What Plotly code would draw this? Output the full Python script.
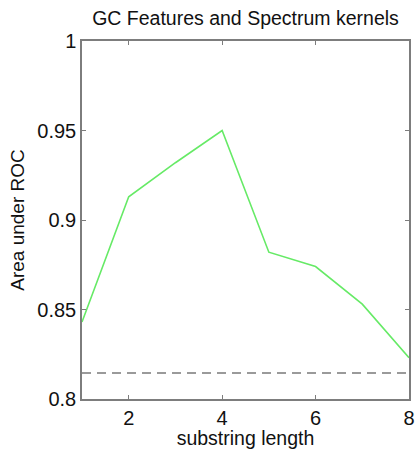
import plotly.graph_objects as go

# AUC for each substring length of the spectrum kernel
substring_length = [1, 2, 3, 4, 5, 6, 7, 8]
auc_spectrum = [0.843, 0.913, 0.932, 0.950, 0.882, 0.874, 0.853, 0.823]

# Baseline AUC of the GC features alone
gc_baseline = 0.8145

x_ticks = [2, 4, 6, 8]
y_ticks = [0.8, 0.85, 0.9, 0.95, 1.0]
y_tick_text = ["0.8", "0.85", "0.9", "0.95", "1"]

font_family = "Liberation Sans, Arial, Helvetica, sans-serif"
text_color = "#111111"

fig = go.Figure()

fig.add_trace(go.Scatter(
    x=[substring_length[0], substring_length[-1]],
    y=[gc_baseline, gc_baseline],
    mode="lines",
    line=dict(color="#7a7a7a", width=1.6, dash="9px,6px"),
    showlegend=False,
    hoverinfo="skip",
))

fig.add_trace(go.Scatter(
    x=substring_length,
    y=auc_spectrum,
    mode="lines",
    line=dict(color="#66ea66", width=1.6),
    showlegend=False,
))

axis_common = dict(
    showline=True,
    linecolor="#7d7d7d",
    linewidth=1.5,
    mirror="ticks",
    ticks="inside",
    ticklen=4,
    tickcolor="#7d7d7d",
    tickwidth=1,
    showgrid=False,
    zeroline=False,
    automargin=False,
    tickfont=dict(family=font_family, size=20, color=text_color),
)

fig.update_layout(
    width=416,
    height=449,
    margin=dict(l=82, r=7, t=41, b=50),
    paper_bgcolor="white",
    plot_bgcolor="white",
    title=dict(
        text="GC Features and Spectrum kernels",
        x=(82 + 409) / 2 / 416,
        xanchor="center",
        y=1 - 18 / 449,
        yanchor="middle",
        font=dict(family=font_family, size=19.5, color=text_color),
    ),
    xaxis=dict(
        range=[1, 8],
        tickvals=x_ticks,
        title=dict(text="substring length", standoff=13,
                   font=dict(family=font_family, size=19.5, color=text_color)),
        **axis_common,
    ),
    yaxis=dict(
        range=[0.8, 1.0],
        tickvals=y_ticks,
        ticktext=y_tick_text,
        title=dict(text="Area under ROC", standoff=8,
                   font=dict(family=font_family, size=19, color=text_color)),
        **axis_common,
    ),
)

fig.write_html("out.html")
